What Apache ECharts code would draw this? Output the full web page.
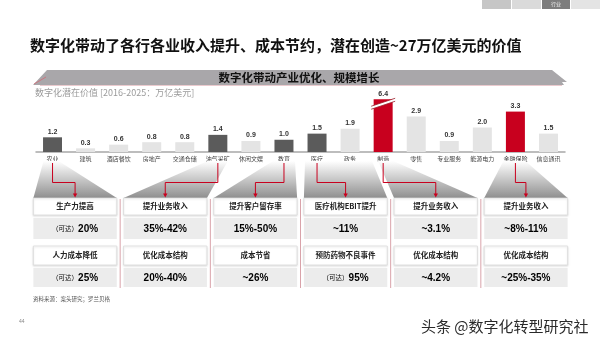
<!DOCTYPE html>
<html>
<head>
<meta charset="utf-8">
<script src="https://cdn.jsdelivr.net/npm/echarts@6/dist/echarts.min.js"></script>
<style>
  html, body { margin: 0; padding: 0; background: #ffffff; }
  #c { width: 600px; height: 337px; }
</style>
</head>
<body>
<div id="c"></div>
<script>
// Industry categories and their potential digital value (trillion USD, 2016-2025)
const categories = ['农业', '建筑', '酒店餐饮', '房地产', '交通仓储', '油气采矿', '休闲文娱', '教育',
  '医疗', '政务', '制造', '零售', '专业服务', '能源电力', '金融保险', '信息通讯'];
const values = [1.2, 0.3, 0.6, 0.8, 0.8, 1.4, 0.9, 1.0, 1.5, 1.9, 6.4, 2.9, 0.9, 2.0, 3.3, 1.5];

// Industries highlighted as case studies
const darkCategories = ['农业', '油气采矿', '教育', '医疗'];
const redCategories = ['制造', '金融保险'];

// Case-study panels, one per highlighted industry
const panelSources = ['农业', '油气采矿', '教育', '医疗', '制造', '金融保险'];
const benefitA = ['生产力提高', '提升业务收入', '提升客户留存率', '医疗机构EBIT提升', '提升业务收入', '提升业务收入'];
const figureA = ['（可达）20%', '35%-42%', '15%-50%', '~11%', '~3.1%', '~8%-11%'];
const benefitB = ['人力成本降低', '优化成本结构', '成本节省', '预防药物不良事件', '优化成本结构', '优化成本结构'];
const figureB = ['（可达）25%', '20%-40%', '~26%', '（可达）95%', '~4.2%', '~25%-35%'];

// Value range skipped on the axis so the tallest bar fits
const valueBreak = { start: 3.9, end: 6.0 };

const CJK = '"Noto Sans CJK SC", "Noto Sans", sans-serif';
const NUM = '"Liberation Sans", Arial, "Noto Sans CJK SC", sans-serif';
const RED = '#c8001e';

const chart = echarts.init(document.getElementById('c'), null, { renderer: 'canvas' });

function barColor(name) {
  if (redCategories.indexOf(name) >= 0) return RED;
  if (darkCategories.indexOf(name) >= 0) return '#5b5b5b';
  return '#e4e4e4';
}

// Rows of each case-study panel (offsets from the panel grid top, px)
const ROWS = [[0, 17], [20, 41], [48, 67], [70, 89]];
const BOX_RATIO = 0.925;

function figureText(s) {
  const p = '（可达）';
  if (s.indexOf(p) === 0) return '{q|' + p + '}{v|' + s.slice(p.length) + '}';
  return '{v|' + s + '}';
}

function renderPanel(params, api) {
  const i = api.value(0);
  const cx = api.coord([i, 0])[0];
  const band = api.size([1, 0])[0];
  const w = band * BOX_RATIO;
  const x0 = cx - w / 2;
  const top = params.coordSys.y;
  const children = [];
  if (i > 0) {
    children.push({ type: 'line', shape: { x1: cx - band / 2, y1: top + 1, x2: cx - band / 2, y2: top + 90 },
      style: { stroke: '#d9a3aa', lineWidth: 1 } });
  }
  const rich = {
    q: { fontSize: 6.5, color: '#8a8a8a', fontFamily: CJK },
    v: { fontSize: 10, fontWeight: 'bold', color: '#333', fontFamily: NUM }
  };
  const labels = [benefitA[i], figureA[i], benefitB[i], figureB[i]];
  ROWS.forEach(function (r, k) {
    const isHead = k % 2 === 0;
    children.push({ type: 'rect', shape: { x: x0, y: top + r[0], width: w, height: r[1] - r[0] },
      style: isHead
        ? { fill: '#ffffff', stroke: '#dcdcdc', lineWidth: 0.8, shadowBlur: 2, shadowOffsetY: 1, shadowColor: 'rgba(0,0,0,0.12)' }
        : { fill: '#ececec' } });
    const ty = top + (r[0] + r[1]) / 2;
    if (isHead) {
      children.push({ type: 'text', style: { text: labels[k], x: cx, y: ty, align: 'center', verticalAlign: 'middle',
        fill: '#222', font: 'bold 7.5px ' + CJK } });
    } else {
      children.push({ type: 'text', style: { text: figureText(labels[k]), rich: rich, x: cx, y: ty + 0.5,
        align: 'center', verticalAlign: 'middle' } });
    }
  });
  return { type: 'group', children: children };
}

function renderBreakMark(params, api) {
  const p = api.coord([api.value(0), api.value(1)]);
  const x = p[0], y = p[1];
  const h = 12;
  return {
    type: 'group',
    children: [
      { type: 'polygon', shape: { points: [[x - h, y + 2], [x + h, y - 6], [x + h, y - 3], [x - h, y + 5]] },
        style: { fill: '#ffffff' } },
      { type: 'line', shape: { x1: x - h, y1: y + 2, x2: x + h, y2: y - 6 }, style: { stroke: '#9b1c28', lineWidth: 0.8 } },
      { type: 'line', shape: { x1: x - h, y1: y + 5, x2: x + h, y2: y - 3 }, style: { stroke: '#9b1c28', lineWidth: 0.8 } }
    ]
  };
}

const option = {
  animation: false,
  grid: [
    { left: 36, right: 35, top: 92, bottom: 185 },
    { left: 30, right: 29, top: 198, bottom: 49 }
  ],
  xAxis: [
    { type: 'category', gridIndex: 0, data: categories,
      axisTick: { show: false },
      axisLine: { lineStyle: { color: '#a8a8a8', width: 1.5 } },
      axisLabel: { color: '#444', fontSize: 6, margin: 4, interval: 0, fontFamily: CJK } },
    { type: 'category', gridIndex: 1, data: panelSources, show: false }
  ],
  yAxis: [
    { type: 'value', gridIndex: 0, min: 0, max: 7, show: false,
      breaks: [{ start: valueBreak.start, end: valueBreak.end, gap: 0 }],
      breakArea: { show: false } },
    { type: 'value', gridIndex: 1, min: 0, max: 1, show: false }
  ],
  series: [
    { type: 'bar', xAxisIndex: 0, yAxisIndex: 0, barWidth: 19,
      data: values.map(function (v, i) { return { value: v, itemStyle: { color: barColor(categories[i]) } }; }),
      label: { show: true, position: 'top', distance: 2, fontSize: 7, fontWeight: 'bold', color: '#333',
        fontFamily: NUM, formatter: function (p) { return p.value.toFixed(1); } } },
    { type: 'custom', xAxisIndex: 0, yAxisIndex: 0, z: 5,
      data: values.map(function (v, i) { return [i, v]; }).filter(function (d) { return d[1] > valueBreak.end; })
        .map(function (d) { return [d[0], valueBreak.start]; }),
      renderItem: renderBreakMark },
    { type: 'custom', xAxisIndex: 1, yAxisIndex: 1,
      data: panelSources.map(function (s, i) { return [i, 0]; }),
      renderItem: renderPanel }
  ]
};

chart.setOption(option);

// Static slide elements
const graphics = [
  { type: 'rect', shape: { x: 482, y: 0, width: 29, height: 9 }, style: { fill: '#c6c6c6' } },
  { type: 'rect', shape: { x: 512, y: 0, width: 29, height: 9 }, style: { fill: '#dadada' } },
  { type: 'rect', shape: { x: 542, y: 0, width: 28, height: 9 }, style: { fill: '#7d7d7d' } },
  { type: 'text', style: { text: '行业', x: 556, y: 4.5, align: 'center', verticalAlign: 'middle', fill: '#f0f0f0', font: '5px ' + CJK } },
  { type: 'rect', shape: { x: 571, y: 0, width: 29, height: 9 }, style: { fill: '#e4e4e4' } },
  { type: 'text', style: { text: '数字化带动了各行各业收入提升、成本节约，潜在创造~27万亿美元的价值',
    x: 30, y: 45, verticalAlign: 'middle', fill: '#111', font: 'bold 15px ' + CJK } },
  { type: 'polygon', shape: { points: [[47, 70], [552, 70], [567, 82], [562, 82], [564, 85], [33, 85]] },
    style: { fill: '#a9a7aa' } },
  { type: 'line', shape: { x1: 40, y1: 85.5, x2: 562, y2: 85.5 }, style: { stroke: '#e6bcc1', lineWidth: 0.8 } },
  { type: 'line', shape: { x1: 34, y1: 84, x2: 46, y2: 77 }, style: { stroke: '#d46a76', lineWidth: 0.8 } },
  { type: 'text', style: { text: '数字化带动产业优化、规模增长', x: 299, y: 77.5, align: 'center', verticalAlign: 'middle',
    fill: '#111', font: 'bold 11.5px ' + CJK } },
  { type: 'text', style: { text: '数字化潜在价值 [2016-2025：万亿美元]', x: 35, y: 93, verticalAlign: 'middle',
    fill: '#9a9a9a', font: '9px ' + CJK } },
  { type: 'text', style: { text: '资料来源：案头研究；罗兰贝格', x: 33, y: 299, verticalAlign: 'middle',
    fill: '#555', font: '5.5px ' + CJK } },
  { type: 'text', style: { text: '44', x: 19, y: 322, verticalAlign: 'middle', fill: '#888', font: '5px ' + NUM } },
  { type: 'text', style: { text: '头条 @数字化转型研究社', x: 421, y: 326, verticalAlign: 'middle',
    fill: '#2a2a2a', font: '15px ' + CJK } }
];

// Funnels and connectors from each highlighted bar to its panel
const funnelTop = [[-9, 6], [-10, 10], [-11, 11], [-12, 55], [-5, 10], [-12, 10]];
const gradient = new echarts.graphic.LinearGradient(0, 0, 0, 1, [
  { offset: 0, color: '#ffffff' }, { offset: 1, color: '#8f8f8f' }
]);
const band = chart.convertToPixel({ xAxisIndex: 1 }, 1) - chart.convertToPixel({ xAxisIndex: 1 }, 0);
panelSources.forEach(function (name, i) {
  const cx = chart.convertToPixel({ xAxisIndex: 0 }, categories.indexOf(name));
  const px = chart.convertToPixel({ xAxisIndex: 1 }, i);
  const hw = band * BOX_RATIO / 2;
  graphics.push({ type: 'polygon', z: 1,
    shape: { points: [[cx + funnelTop[i][0], 161], [cx + funnelTop[i][1], 161], [px + hw, 198], [px - hw, 198]] },
    style: { fill: gradient } });
  graphics.push({ type: 'polyline', z: 3,
    shape: { points: [[cx, 163], [cx, 182.5], [px, 182.5], [px, 194]] },
    style: { stroke: RED, lineWidth: 1, fill: null } });
  graphics.push({ type: 'polygon', z: 3,
    shape: { points: [[px - 2.2, 193.5], [px + 2.2, 193.5], [px, 197.5]] },
    style: { fill: RED } });
});

chart.setOption({ graphic: graphics });
</script>
</body>
</html>
